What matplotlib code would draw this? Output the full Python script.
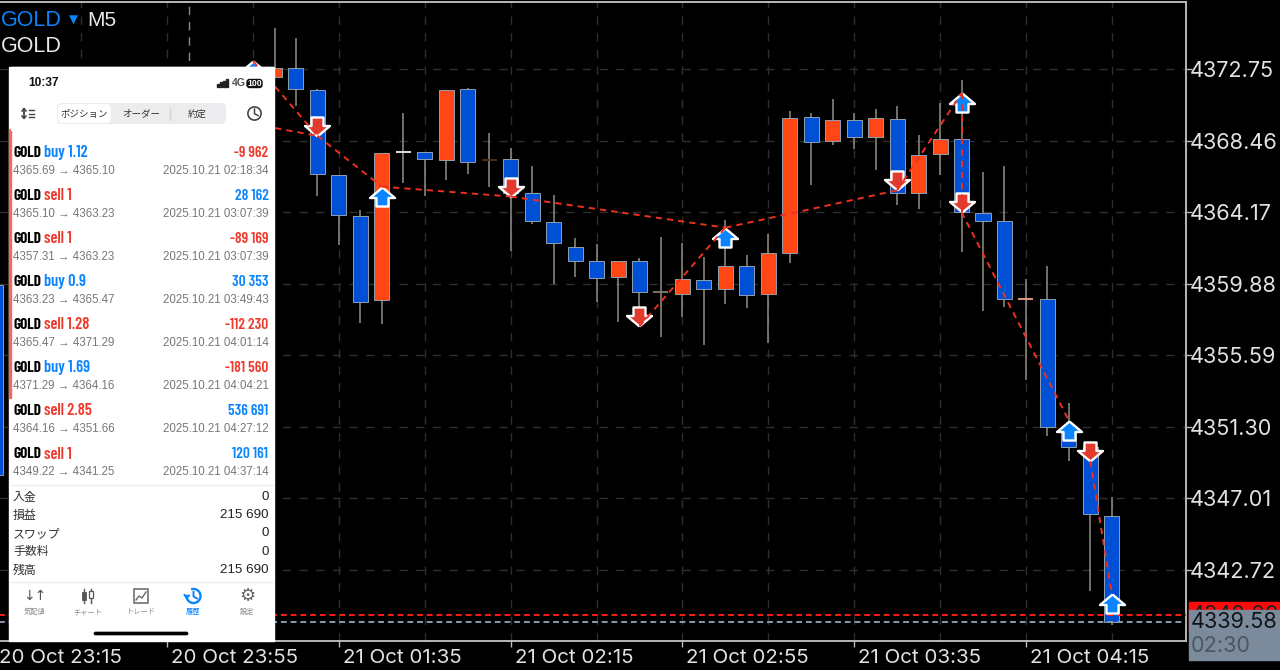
import matplotlib
matplotlib.use("Agg")
import matplotlib.pyplot as plt
from matplotlib.markers import MarkerStyle
from matplotlib.path import Path
from matplotlib.patches import Rectangle, FancyBboxPatch, Circle, Arc
from matplotlib.transforms import ScaledTranslation

# candles, index 0 is the first one right of the phone screenshot
candle_idx = [-13] + list(range(0, 40))
opens = [4359.79, 4372.27, 4372.81, 4371.49, 4366.39, 4363.93, 4358.89, 4367.77, 4367.77, 4367.29, 4371.55,
         4367.29, 4367.35, 4365.31, 4363.57, 4362.07, 4361.23, 4360.27, 4361.23, 4359.37, 4359.25, 4360.09,
         4359.55, 4360.93, 4359.25, 4361.71, 4369.87, 4368.43, 4369.69, 4368.67, 4369.75, 4365.31, 4367.65,
         4368.55, 4364.11, 4363.63, 4358.95, 4358.95, 4351.27, 4350.07, 4345.93]
closes = [4348.39, 4372.81, 4371.55, 4366.45, 4363.99, 4358.77, 4367.71, 4367.77, 4367.35, 4371.49, 4367.17,
          4367.29, 4365.31, 4363.63, 4362.31, 4361.23, 4360.21, 4361.23, 4359.37, 4359.37, 4360.15, 4359.55,
          4360.93, 4359.19, 4361.71, 4369.81, 4368.37, 4369.69, 4368.67, 4369.81, 4365.31, 4367.59, 4368.55,
          4364.17, 4363.63, 4358.95, 4358.95, 4351.27, 4350.07, 4346.05, 4339.57]
highs = [4359.79, 4375.21, 4374.61, 4371.55, 4366.39, 4364.29, 4367.71, 4370.11, 4367.77, 4371.49, 4371.61,
         4368.91, 4368.01, 4366.93, 4365.19, 4362.61, 4362.25, 4361.23, 4361.41, 4362.67, 4362.31, 4361.47,
         4363.69, 4361.59, 4362.85, 4370.23, 4370.11, 4370.95, 4370.11, 4370.35, 4370.53, 4368.79, 4370.71,
         4372.09, 4366.57, 4366.93, 4360.15, 4360.93, 4352.71, 4350.07, 4347.07]
lows = [4348.39, 4372.27, 4370.53, 4365.13, 4362.19, 4357.51, 4357.45, 4365.91, 4365.13, 4366.09, 4366.45,
        4365.67, 4361.83, 4363.45, 4359.85, 4360.27, 4358.77, 4357.57, 4358.17, 4356.67, 4357.87, 4356.19,
        4358.65, 4358.41, 4356.31, 4361.11, 4365.79, 4368.19, 4367.95, 4366.69, 4364.59, 4364.35, 4366.39,
        4361.77, 4358.23, 4358.47, 4354.09, 4350.73, 4349.23, 4341.43, 4339.39]
doji_colors = {6: "#e8e0dc", 10: "#4a3218", 18: "#77776c", 35: "#e09a80"}

# executed trades as drawn on the chart
trade_start_idx = [-1, -1, 2, 5, 11, 17, 21, 29, 32, 32, 38]
trade_end_idx = [2, 2, 5, 11, 21, 21, 29, 32, 32, 37, 39]
trade_start_px = [4373.23, 4369.45, 4368.74, 4365.69, 4365.10, 4357.31, 4363.23, 4365.47, 4371.29, 4364.16, 4349.22]
trade_end_px = [4368.74, 4368.74, 4365.69, 4365.10, 4363.23, 4363.23, 4365.47, 4371.29, 4364.16, 4351.66, 4341.25]
up_idx = [-1, 5, 21, 32, 37, 39]
up_px = [4373.23, 4365.69, 4363.23, 4371.29, 4351.66, 4341.25]
down_idx = [2, 11, 17, 29, 32, 38]
down_px = [4368.74, 4365.10, 4357.31, 4365.47, 4364.16, 4349.22]

y_ticks = [4372.75, 4368.46, 4364.17, 4359.88, 4355.59, 4351.30, 4347.01, 4342.72]
x_tick_idx = [-13, -5, 3, 11, 19, 27, 35]
x_tick_labels = ["20 Oct 23:15", "20 Oct 23:55", "21 Oct 01:35", "21 Oct 02:15",
                 "21 Oct 02:55", "21 Oct 03:35", "21 Oct 04:15"]
grid_idx = list(range(-13, 40, 4))
separator_idx = -4
ask = 4340.00
bid = 4339.58

# phone screenshot text
rows_side = ["buy", "sell", "sell", "buy", "sell", "buy", "sell", "sell"]
rows_lot = ["1.12", "1", "1", "0.9", "1.28", "1.69", "2.85", "1"]
rows_prices = ["4365.69 → 4365.10", "4365.10 → 4363.23", "4357.31 → 4363.23", "4363.23 → 4365.47",
               "4365.47 → 4371.29", "4371.29 → 4364.16", "4364.16 → 4351.66", "4349.22 → 4341.25"]
rows_time = ["2025.10.21 02:18:34", "2025.10.21 03:07:39", "2025.10.21 03:07:39", "2025.10.21 03:49:43",
             "2025.10.21 04:01:14", "2025.10.21 04:04:21", "2025.10.21 04:27:12", "2025.10.21 04:37:14"]
rows_profit = ["-9 962", "28 162", "-89 169", "30 353", "-112 230", "-181 560", "536 691", "120 161"]
summary_names = ["入金", "損益", "スワップ", "手数料", "残高"]
summary_values = ["0", "215 690", "0", "0", "215 690"]
nav_names = ["気配値", "チャート", "トレード", "履歴", "設定"]

UP = "#ff4614"
DOWN = "#0050d6"
BLUE = "#0a84ff"
RED = "#ee3b2d"
CJK = ["Noto Sans CJK JP", "DejaVu Sans"]
NARROW = ["Barlow Condensed", "Liberation Sans"]
SANS = ["Liberation Sans", "DejaVu Sans"]

W, H = 1280, 670
CANDLE_PX = 21.47
X0_PX = 274.5
PRICE_PER_PX = 4.29 / 71.5


def px_to_idx(x):
	return (x - X0_PX) / CANDLE_PX


def py_to_price(y):
	return 4372.75 - (y - 69) * PRICE_PER_PX


plt.rcParams["font.family"] = ["Inter", "DejaVu Sans"]
fig = plt.figure(figsize=(W / 100, H / 100), dpi=100, facecolor="black")

# main chart, left edge a bit off canvas so the first tick stays in range
left, right, top, bottom = -8, 1186, 2, 641
ax = fig.add_axes([left / W, (H - bottom) / H, (right - left) / W, (bottom - top) / H], facecolor="black")
ax.set_xlim(px_to_idx(left), px_to_idx(right))
ax.set_ylim(py_to_price(bottom), py_to_price(top))

for p in y_ticks:
	ax.axhline(p, color="#2e2e2e", lw=1, dashes=(6, 6), zorder=1)
for i in grid_idx:
	ax.axvline(i, color="#2e2e2e", lw=1, dashes=(6, 6), zorder=1)
ax.axvline(separator_idx, color="#8a8a8a", lw=1, dashes=(6, 5), zorder=1)

ax.axhline(ask, color="#ff1a1a", lw=1.4, dashes=(3, 2), zorder=5)
ax.axhline(bid, color="#8a9aac", lw=1.4, dashes=(3, 2), zorder=5)

ax.vlines(candle_idx, lows, highs, color="#85857a", lw=1.2, zorder=2)
for i, o, c in zip(candle_idx, opens, closes):
	if o == c:
		ax.hlines(o, i - 0.35, i + 0.35, color=doji_colors.get(i, "#aaaaaa"), lw=1.4, zorder=3)
	else:
		ax.bar(i, abs(c - o), bottom=min(o, c), width=0.7, color=UP if c > o else DOWN,
			edgecolor="#8fa0b0", linewidth=0.7, zorder=3)

for i0, i1, p0, p1 in zip(trade_start_idx, trade_end_idx, trade_start_px, trade_end_px):
	ax.plot([i0, i1], [p0, p1], color="#ee3020", lw=1.4, dashes=(3.2, 2.6), zorder=7)

# arrows, tip sits on the traded price
up_verts = [(0, 0), (12.5, 10.5), (6, 10.5), (6, 19), (-6, 19), (-6, 10.5), (-12.5, 10.5), (0, 0)]
up_marker = MarkerStyle(Path([(x, -y) for x, y in up_verts]), joinstyle="miter")
down_marker = MarkerStyle(Path(up_verts), joinstyle="miter")
ax.plot(up_idx, up_px, ls="none", marker=up_marker, ms=27.4, mfc=BLUE, mec="white", mew=1.7, zorder=6)
ax.plot(down_idx, down_px, ls="none", marker=down_marker, ms=27.4, mfc="#e23b2e", mec="white", mew=1.7, zorder=6)

ax.yaxis.tick_right()
ax.set_yticks(y_ticks)
ax.set_yticklabels([f"{p:.2f}" for p in y_ticks], fontsize=15.6, color="#e2e2e2")
ax.set_xticks(x_tick_idx)
ax.set_xticklabels(x_tick_labels, fontsize=14.8, color="#e2e2e2", ha="left")
ax.tick_params(axis="y", length=4, width=1, color="#b8b8b8", pad=-1)
ax.tick_params(axis="x", length=4, width=1, color="#b8b8b8", pad=1.5)
for lab in ax.get_xticklabels():
	lab.set_transform(lab.get_transform() + ScaledTranslation(4 / 100, 0, fig.dpi_scale_trans))
ax.spines["left"].set_visible(False)
for side in ("top", "right", "bottom"):
	ax.spines[side].set_color("#b8b8b8")
	ax.spines[side].set_linewidth(1.4)

# overlay in pixel coordinates: symbol text, price labels, phone screenshot
ov = fig.add_axes([0, 0, 1, 1], facecolor="none")
ov.set_xlim(0, W)
ov.set_ylim(H, 0)
ov.axis("off")

ov.text(1, 21, "GOLD", color=BLUE, fontsize=15.5, family=SANS, va="center")
ov.text(73, 20, "▼", color=BLUE, fontsize=8.5, family="DejaVu Sans", ha="center", va="center")
ov.text(87, 21, "M5", color="#e8e8e8", fontsize=15, family=SANS, va="center")
ov.text(1, 46, "GOLD", color="#e8e8e8", fontsize=15.5, family=SANS, va="center")

ov.add_patch(Rectangle((1189, 602), 91, 30, color="#ff0a0a", zorder=2))
ov.text(1191, 615, f"{ask:.2f}", color="#222222", fontsize=15.6, va="center", zorder=3)
ov.add_patch(Rectangle((1189, 610), 91, 50, color="#7b8b9b", zorder=4))
ov.text(1191, 622, f"{bid:.2f}", color="#101418", fontsize=15.6, va="center", zorder=5)
ov.text(1191, 646, "02:30", color="#4b5661", fontsize=15.6, va="center", zorder=5)

# phone panel
ov.add_patch(Rectangle((8.5, 67), 265, 574, color="white", zorder=2))
ov.add_patch(Rectangle((8.5, 129), 2.5, 269, color="#ee6a60", zorder=3))

ov.text(13, 128, "4368.74 → 4365.69", color="#777777", fontsize=8.3, family=SANS, va="center", zorder=3)
ov.text(268.5, 128, "2025.10.21 01:46:28", color="#777777", fontsize=8.3, family=SANS, va="center", ha="right", zorder=3)
ov.add_patch(Rectangle((11, 67), 262, 62.5, color="white", zorder=4))

ov.text(28, 83, "10:37", color="#111111", fontsize=8.6, family=SANS, weight="bold", va="center", zorder=5)
for k, hgt in enumerate([3, 4.5, 6, 7.5]):
	ov.add_patch(Rectangle((216.5 + k * 3.2, 86.5 - hgt), 2.2, hgt, color="#222222", zorder=5))
ov.text(232, 83.5, "4G", color="#555555", fontsize=7.6, family=SANS, weight="bold", va="center", zorder=5)
ov.add_patch(FancyBboxPatch((247, 79.5), 15, 8, boxstyle="round,pad=0,rounding_size=2.5", fc="#111111", ec="#111111", lw=1, zorder=5))
ov.text(254.5, 83.5, "100", color="white", fontsize=6.2, family=SANS, weight="bold", ha="center", va="center", zorder=6)

ov.plot([24, 24], [109, 118], color="#444444", lw=1.3, zorder=5)
ov.plot([22, 24, 26], [111, 108.5, 111], color="#444444", lw=1.1, zorder=5)
ov.plot([22, 24, 26], [116, 118.5, 116], color="#444444", lw=1.1, zorder=5)
for yy in (110, 113.5, 117):
	ov.plot([28.5, 34], [yy, yy], color="#444444", lw=1, zorder=5)

ov.add_patch(FancyBboxPatch((57, 103), 169, 21, boxstyle="round,pad=0,rounding_size=5", fc="#ececee", ec="none", zorder=5))
ov.add_patch(FancyBboxPatch((58, 104), 53, 19, boxstyle="round,pad=0,rounding_size=5", fc="white", ec="none", zorder=6))
ov.plot([169.5, 169.5], [108, 120], color="#d4d4d4", lw=1, zorder=6)
for cx, s in zip([84.5, 141, 197.5], ["ポジション", "オーダー", "約定"]):
	ov.text(cx, 114, s, color="#333333", fontsize=6.8, family=CJK, ha="center", va="center", zorder=7)
ov.add_patch(Circle((254.5, 113.5), 6.6, fc="none", ec="#444444", lw=1.2, zorder=5))
ov.plot([254.5, 254.5, 258], [109, 113.8, 115.5], color="#444444", lw=1.1, zorder=5)

renderer = fig.canvas.get_renderer()
for k in range(len(rows_side)):
	y_title = 152.7 + k * 43.05
	y_sub = 170.7 + k * 43.05
	is_buy = rows_side[k] == "buy"
	gold = ov.text(13, y_title, "GOLD", color="black", fontsize=11, family=NARROW, weight="bold", va="center", zorder=3)
	# side text goes right after the symbol, whatever width the font gave it
	side_x = gold.get_window_extent(renderer).x1 + 2.5
	ov.text(side_x, y_title, f"{rows_side[k]} {rows_lot[k]}", color=BLUE if is_buy else RED, fontsize=11.8,
		family=NARROW, weight="semibold", va="center", zorder=3)
	loss = rows_profit[k].startswith("-")
	ov.text(268.5, y_title, rows_profit[k], color=RED if loss else BLUE, fontsize=11, family=NARROW,
		weight="semibold", ha="right", va="center", zorder=3)
	ov.text(13, y_sub, rows_prices[k], color="#777777", fontsize=8.3, family=SANS, va="center", zorder=3)
	ov.text(268.5, y_sub, rows_time[k], color="#777777", fontsize=8.3, family=SANS, ha="right", va="center", zorder=3)

ov.plot([11, 273], [484.5, 484.5], color="#eeeeee", lw=1, zorder=3)
ov.plot([11, 273], [582, 582], color="#eeeeee", lw=1, zorder=3)
for k in range(len(summary_names)):
	yy = 497 + k * 18.25
	ov.text(13, yy, summary_names[k], color="#333333", fontsize=8.6, family=CJK, va="center", zorder=3)
	ov.text(268.5, yy, summary_values[k], color="#222222", fontsize=9.6, family=SANS, ha="right", va="center", zorder=3)

# bottom nav
nav_x = [35, 87.5, 141, 193, 247]
for k in range(5):
	col = BLUE if k == 3 else "#8a8a8a"
	ov.text(nav_x[k], 612, nav_names[k], color=col, fontsize=5.2, family=CJK, ha="center", va="center", zorder=3)
ov.text(35, 596, "↓↑", color="#555555", fontsize=10, family="DejaVu Sans", ha="center", va="center", zorder=3)
ov.plot([84, 84], [589, 603], color="#555555", lw=1, zorder=3)
ov.plot([91, 91], [589, 603], color="#555555", lw=1, zorder=3)
ov.add_patch(Rectangle((82, 592), 4, 8, fc="#555555", ec="#555555", lw=0.6, zorder=4))
ov.add_patch(Rectangle((89, 591), 4, 7, fc="white", ec="#555555", lw=0.9, zorder=4))
ov.add_patch(Rectangle((134, 589), 14, 14, fc="none", ec="#666666", lw=1.1, zorder=3))
ov.plot([136, 139, 142, 146], [600, 596, 598, 592], color="#666666", lw=1, zorder=3)
ov.add_patch(Arc((193.5, 596), 14, 14, theta1=-110, theta2=190, ec=BLUE, lw=1.7, zorder=3))
ov.plot([193.5, 193.5, 197], [592, 596.5, 598.5], color=BLUE, lw=1.4, zorder=3)
ov.plot([184.5, 186.7, 189], [595, 598, 595.5], color=BLUE, lw=1.4, zorder=3)
ov.text(247, 596, "⚙", color="#666666", fontsize=13, family="DejaVu Sans", ha="center", va="center", zorder=3)
ov.add_patch(FancyBboxPatch((94, 632), 94, 3, boxstyle="round,pad=0,rounding_size=1.5", fc="black", ec="black", lw=0.5, zorder=3))

fig.savefig("out.png", dpi=100, facecolor="black")
